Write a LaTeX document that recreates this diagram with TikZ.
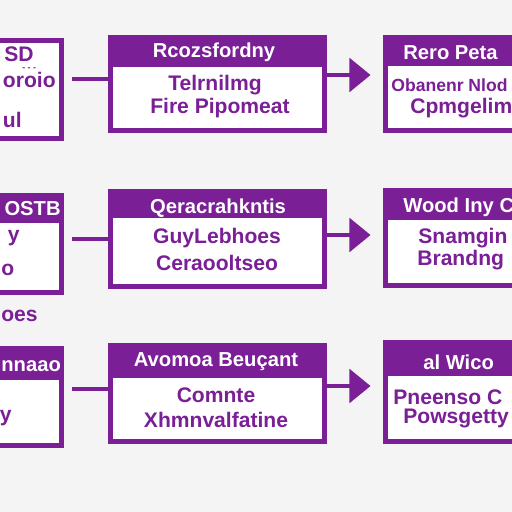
\documentclass[tikz,border=0pt]{standalone}
\usepackage{fontspec}
\setmainfont{Liberation Sans}
\usepackage{xcolor}
\usepackage{tikz}
\usetikzlibrary{arrows.meta, positioning}
\definecolor{boxpurple}{RGB}{122,31,150}
\definecolor{paper}{RGB}{244,244,244}

\begin{document}
\begin{tikzpicture}[x=0.02cm, y=-0.02cm,
    box/.style={draw=boxpurple, line width=3pt, fill=white, inner sep=0pt},
    head/.style={path picture={\fill[boxpurple] (path picture bounding box.north west) rectangle ([yshift=-#1*0.02cm]path picture bounding box.north east);}},
    htext/.style={text=white, font=\bfseries\fontsize{11.5}{13}\selectfont, inner sep=0pt},
    btext/.style={text=boxpurple, font=\bfseries\fontsize{12}{14}\selectfont, inner sep=0pt},
    link/.style={draw=boxpurple, line width=2.3pt},
    flow/.style={link, -{Triangle[length=12pt, width=19pt]}, shorten >=7pt}]
    % 画布
    \useasboundingbox (0,0) rectangle (512,512);
    \clip (0,0) rectangle (512,512);
    \fill[paper] (0,0) rectangle (512,512);

    % 第一行
    \node[box, minimum width=104*0.02cm, minimum height=98*0.02cm] (L1) at (9.5,89.5) {};
    \node[box, head=29, minimum width=214*0.02cm, minimum height=93*0.02cm] (M1) at (217.5,84) {};
    \node[box, head=28, minimum width=157*0.02cm, minimum height=93*0.02cm] (R1) at (464,84) {};
    \node[btext, anchor=west] (L1a) at (4,54) {SD};
    \node[btext, anchor=west, font=\bfseries\fontsize{5}{6}\selectfont] (L1d) at (22,69) {- - -};
    \node[btext, anchor=east] (L1b) at (56,80) {oroio};
    \node[btext, anchor=east] (L1c) at (22,120) {ul};
    \node[htext] (M1h) at (214,52) {Rcozsfordny};
    \node[btext] (M1a) at (215,85) {Telrnilmg};
    \node[btext] (M1b) at (220,108) {Fire Pipomeat};
    \node[htext, anchor=west] (R1h) at (403,53) {Rero Peta};
    \node[btext, anchor=west, font=\bfseries\fontsize{10}{12}\selectfont] (R1a) at (391,85) {Obanenr Nlod};
    \node[btext, anchor=west] (R1b) at (410,108) {Cpmgelim};
    \draw[link, shorten <=4.5pt] (L1.east |- 0,79) -- (M1.west |- 0,79);
    \draw[flow] (M1.east |- 0,75) -- (R1.west |- 0,75);

    % 第二行
    \node[box, head=27, minimum width=104*0.02cm, minimum height=97*0.02cm] (L2) at (9.5,244) {};
    \node[box, head=26.5, minimum width=214*0.02cm, minimum height=95*0.02cm] (M2) at (217.5,239) {};
    \node[box, head=29, minimum width=157*0.02cm, minimum height=95*0.02cm] (R2) at (464,238) {};
    \node[htext, anchor=east] (L2h) at (61,209) {OSTB};
    \node[btext, anchor=east] (L2a) at (20,238) {y};
    \node[btext, anchor=west] (L2b) at (1,270) {o};
    \node[btext, anchor=west] (L2c) at (1,316) {oes};
    \node[htext] (M2h) at (218,208) {Qeracrahkntis};
    \node[btext] (M2a) at (217,238) {GuyLebhoes};
    \node[btext] (M2b) at (217,263) {Ceraooltseo};
    \node[htext, anchor=west] (R2h) at (403,207) {Wood Iny C};
    \node[btext, anchor=west] (R2a) at (418,238) {Snamgin};
    \node[btext, anchor=west] (R2b) at (417,260) {Brandng};
    \draw[link, shorten <=4.5pt] (L2.east |- 0,239) -- (M2.west |- 0,239);
    \draw[flow] (M2.east |- 0,235) -- (R2.west |- 0,235);

    % 第三行
    \node[box, head=31, minimum width=104*0.02cm, minimum height=97*0.02cm] (L3) at (9.5,397) {};
    \node[box, head=32, minimum width=214*0.02cm, minimum height=96*0.02cm] (M3) at (217.5,393.5) {};
    \node[box, head=33, minimum width=157*0.02cm, minimum height=99*0.02cm] (R3) at (464,392) {};
    \node[htext, anchor=west] (L3h) at (1,366) {nnaao};
    \node[btext, anchor=east] (L3a) at (12,418) {y};
    \node[htext] (M3h) at (216,362) {Avomoa Beuçant};
    \node[btext] (M3a) at (216,395) {Comnte};
    \node[btext] (M3b) at (216,420) {Xhmnvalfatine};
    \node[htext, anchor=west] (R3h) at (423,362) {al Wico};
    \node[btext, anchor=west] (R3a) at (393,397) {Pneenso C};
    \node[btext, anchor=west] (R3b) at (403,418) {Powsgetty};
    \draw[link, shorten <=4.5pt] (L3.east |- 0,389) -- (M3.west |- 0,389);
    \draw[flow] (M3.east |- 0,386) -- (R3.west |- 0,386);
\end{tikzpicture}
\end{document}
